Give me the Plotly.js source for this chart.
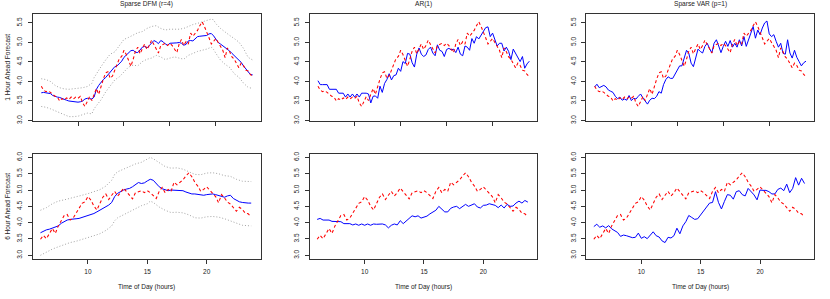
<!DOCTYPE html>
<html><head><meta charset="utf-8">
<script src="https://cdn.plot.ly/plotly-3.0.1.min.js"></script>
<style>html,body{margin:0;padding:0;background:#fff}#chart{width:830px;height:299px}</style>
</head><body><div id="chart"></div>
<script>
// ---------------- text ----------------
const panelTitles = ["Sparse DFM (r=4)", "AR(1)", "Sparse VAR (p=1)"];
const rowTitles = ["1 Hour Ahead Forecast", "6 Hour Ahead Forecast"];
const xTitle = "Time of Day (hours)";

// ---------------- top row: quarter-hour index 4..96 ----------------
const firstSlot = 4;
const actual = [3.88,3.78,3.74,3.76,3.72,3.66,3.62,3.60,3.50,3.56,3.52,3.58,3.54,3.60,3.55,3.60,3.57,3.62,3.45,3.36,
  3.49,3.61,3.51,3.65,3.82,3.67,3.90,4.06,4.22,4.25,4.08,4.14,4.29,4.47,4.59,4.64,4.80,4.69,4.51,4.39,
  4.57,4.78,4.88,4.71,4.84,4.96,4.82,4.92,5.06,4.94,4.82,4.73,4.92,4.96,4.98,4.92,4.98,4.92,4.82,4.74,
  4.96,5.08,4.92,5.02,4.96,5.24,5.16,5.24,5.31,5.43,5.53,5.41,5.24,5.12,4.96,5.02,5.10,5.00,4.90,4.80,
  4.61,4.86,4.76,4.63,4.57,4.45,4.35,4.47,4.41,4.29,4.27,4.18,4.12];
const dfm1 = [3.71,3.72,3.71,3.70,3.69,3.64,3.61,3.60,3.59,3.56,3.53,3.52,3.50,3.49,3.48,3.47,3.47,3.48,3.50,3.55,
  3.57,3.56,3.55,3.60,3.80,3.90,3.98,4.05,4.10,4.17,4.26,4.33,4.38,4.40,4.45,4.52,4.62,4.68,4.74,4.79,
  4.80,4.75,4.74,4.82,4.88,4.90,4.86,4.92,4.98,5.05,5.02,4.97,5.05,5.02,4.96,4.93,4.98,4.98,4.99,4.99,
  5.00,4.98,4.93,4.95,5.04,5.05,5.04,5.10,5.15,5.16,5.17,5.17,5.18,5.22,5.23,5.17,5.08,5.00,4.96,4.92,
  4.88,4.82,4.78,4.72,4.66,4.60,4.55,4.49,4.40,4.32,4.24,4.18,4.17];
const ciTopIdx = [4,6,8,10,12,14,16,18,20,22,24,26,27,28,30,32,34,36,38,40,42,44,46,48,50,52,54,56,58,60,62,64,66,68,70,72,74,76,78,79,80,82,84,86,88,90,92,94,96];
const dfm1Upper = [4.07,4.05,4.00,3.90,3.84,3.81,3.80,3.81,3.82,3.84,3.87,3.95,4.10,4.20,4.38,4.55,4.70,4.76,4.92,5.08,5.13,5.20,5.25,5.28,5.36,5.41,5.43,5.36,5.32,5.34,5.34,5.34,5.36,5.42,5.46,5.49,5.53,5.57,5.60,5.58,5.48,5.36,5.26,5.18,5.10,5.01,4.85,4.62,4.55];
const dfm1Lower = [3.36,3.34,3.30,3.25,3.18,3.13,3.10,3.10,3.11,3.15,3.19,3.17,3.30,3.38,3.53,3.73,3.89,4.04,4.12,4.26,4.37,4.42,4.40,4.51,4.57,4.60,4.67,4.63,4.56,4.60,4.63,4.60,4.57,4.67,4.73,4.77,4.80,4.83,4.88,4.82,4.72,4.55,4.44,4.36,4.20,4.11,3.96,3.85,3.82];
const ar1 = [4.02,3.92,3.92,3.92,3.92,3.80,3.80,3.80,3.80,3.70,3.70,3.70,3.60,3.68,3.60,3.68,3.60,3.68,3.60,3.70,
  3.70,3.70,3.68,3.45,3.62,3.63,3.57,3.88,3.72,3.95,4.05,4.20,4.04,4.15,4.17,4.34,4.26,4.51,4.46,4.72,
  4.70,4.48,4.37,4.70,4.86,4.70,4.64,4.68,4.82,4.88,4.73,4.66,4.94,4.80,4.77,4.64,4.82,4.85,4.81,4.83,
  4.74,4.88,4.70,4.66,4.91,4.88,4.80,5.10,4.98,5.15,5.09,5.20,5.30,5.38,5.40,5.15,5.24,5.05,4.91,4.98,
  4.98,4.78,4.88,4.77,4.56,4.83,4.73,4.64,4.51,4.64,4.34,4.45,4.52];
const var1 = [3.86,3.93,3.84,3.86,3.90,3.86,3.78,3.75,3.72,3.62,3.56,3.60,3.52,3.55,3.52,3.64,3.51,3.57,3.55,3.62,
  3.68,3.58,3.50,3.42,3.52,3.57,3.56,3.62,3.74,3.70,3.92,4.05,4.12,4.08,4.08,4.20,4.30,4.40,4.40,4.58,
  4.80,4.72,4.47,4.38,4.62,4.83,4.77,4.73,4.90,4.98,4.85,4.73,4.98,5.07,4.91,4.74,4.90,5.03,4.90,5.05,
  4.88,4.98,4.88,5.07,4.91,5.15,4.90,5.05,5.24,5.41,5.11,5.32,5.20,5.37,5.50,5.55,5.22,5.15,5.20,5.03,
  4.88,4.98,4.72,4.70,5.07,4.73,4.60,4.80,4.62,4.51,4.40,4.48,4.52];

// ---------------- bottom row: hours 6.00..23.75 (quarter-hour slots 24..95) ----------------
const bottomFirstSlot = 24;
const bottomLastSlot = 95;
const dfm6 = [3.69,3.74,3.78,3.80,3.84,3.88,3.90,3.98,4.04,4.08,4.10,4.12,4.12,4.13,4.16,4.19,
  4.22,4.24,4.28,4.33,4.38,4.43,4.49,4.54,4.62,4.80,4.90,4.96,5.00,5.03,5.05,5.10,
  5.18,5.23,5.20,5.22,5.28,5.33,5.30,5.20,5.10,5.04,5.00,4.98,5.00,4.99,5.00,4.99,
  4.98,4.94,4.90,4.88,4.88,4.86,4.85,4.84,4.86,4.88,4.88,4.86,4.84,4.80,4.78,4.82,
  4.84,4.74,4.68,4.64,4.62,4.60,4.60,4.60];
const ci6Hours = [6,6.5,7,7.5,8,8.5,9,9.5,10,10.5,11,11.5,12,12.25,12.5,13,13.5,14,14.5,15,15.25,15.5,16,16.5,17,17.5,18,18.5,19,19.5,20,20.5,21,21.5,22,22.5,23,23.75];
const dfm6Upper = [4.38,4.46,4.58,4.66,4.70,4.74,4.80,4.84,4.89,4.94,5.01,5.12,5.30,5.48,5.56,5.64,5.72,5.80,5.85,5.95,6.00,5.96,5.84,5.72,5.67,5.68,5.64,5.56,5.48,5.47,5.52,5.53,5.50,5.44,5.42,5.33,5.27,5.26];
const dfm6Lower = [3.00,3.10,3.19,3.26,3.33,3.39,3.43,3.48,3.54,3.60,3.66,3.76,3.90,4.06,4.15,4.24,4.33,4.42,4.52,4.58,4.66,4.62,4.48,4.38,4.31,4.32,4.30,4.24,4.15,4.14,4.18,4.19,4.17,4.12,4.05,3.97,3.92,3.90];
const ar6 = [4.10,4.13,4.08,4.08,4.08,4.04,4.03,4.03,4.03,3.97,3.97,3.97,3.93,3.96,3.92,3.96,
  3.92,3.96,3.92,3.96,3.95,3.96,3.96,3.93,3.84,3.92,3.96,3.93,4.06,3.97,4.05,4.12,
  4.21,4.18,4.21,4.14,4.18,4.20,4.27,4.33,4.38,4.50,4.42,4.33,4.33,4.44,4.48,4.50,
  4.43,4.50,4.56,4.50,4.55,4.58,4.48,4.45,4.53,4.54,4.58,4.55,4.53,4.46,4.54,4.45,
  4.56,4.50,4.51,4.60,4.66,4.60,4.68,4.63];
const var6 = [3.88,3.95,3.86,3.90,3.84,3.91,3.81,3.75,3.70,3.58,3.62,3.60,3.58,3.54,3.55,3.68,
  3.52,3.57,3.51,3.60,3.72,3.60,3.56,3.44,3.39,3.55,3.53,3.60,3.83,3.66,3.90,4.03,
  4.22,4.16,4.10,4.12,4.24,4.36,4.50,4.60,4.62,4.95,4.62,4.42,4.65,4.86,4.84,4.72,
  4.95,4.98,4.86,4.82,5.05,4.95,4.85,4.70,5.00,4.99,4.99,4.95,4.88,4.88,5.02,5.06,
  4.98,5.18,4.92,5.05,5.38,5.15,5.36,5.20];

// ---------------- axes ----------------
const topXTicks = [20, 40, 60, 80];
const bottomXTicks = [10, 15, 20];
const topYTicks = [3.0, 3.5, 4.0, 4.5, 5.0, 5.5];
const bottomYTicks = [3.0, 3.5, 4.0, 4.5, 5.0, 5.5, 6.0];

// ---------------- build ----------------
const W = 830, H = 299;
const colLeft = 33, boxW = 227.7, colStep = 276.67;
const rowBox = [[14, 120.5], [153.5, 259.2]];
const FONT = 'Liberation Sans, Arial, Helvetica, sans-serif';
const BLUE = '#0000ff', RED = '#ff0000', GREY = '#999999';

const topX = actual.map((_, i) => firstSlot + i);
const botActual = actual.slice(bottomFirstSlot - firstSlot, bottomLastSlot - firstSlot + 1);
const botX = botActual.map((_, i) => (bottomFirstSlot + i) / 4);

const redLine = {color: RED, width: 1.05, dash: '3px,2.5px'};
const blueLine = {color: BLUE, width: 1.0};
const ciLine = {color: GREY, width: 0.9, dash: '1px,2px'};

const traces = [];
function add(ax, x, y, line) {
  const n = ax === 1 ? '' : ax;
  traces.push({type: 'scatter', mode: 'lines', x: x, y: y, line: line,
    xaxis: 'x' + n, yaxis: 'y' + n, hoverinfo: 'skip', showlegend: false});
}
// top row
add(1, ciTopIdx, dfm1Upper, ciLine);
add(1, ciTopIdx, dfm1Lower, ciLine);
add(1, topX, dfm1, blueLine);
add(1, topX, actual, redLine);
add(2, topX, ar1, blueLine);
add(2, topX, actual, redLine);
add(3, topX, var1, blueLine);
add(3, topX, actual, redLine);
// bottom row
add(4, ci6Hours, dfm6Upper, ciLine);
add(4, ci6Hours, dfm6Lower, ciLine);
add(4, botX, dfm6, blueLine);
add(4, botX, botActual, redLine);
add(5, botX, ar6, blueLine);
add(5, botX, botActual, redLine);
add(6, botX, var6, blueLine);
add(6, botX, botActual, redLine);

const layout = {
  width: W, height: H, margin: {l: 0, r: 0, t: 0, b: 0},
  paper_bgcolor: '#fff', plot_bgcolor: '#fff', showlegend: false,
  font: {family: FONT, size: 6.5, color: '#222'},
  annotations: []
};
const tickFont = {family: FONT, size: 6.5, color: '#222'};
for (let p = 0; p < 6; p++) {
  const r = Math.floor(p / 3), c = p % 3;
  const n = p === 0 ? '' : (p + 1);
  const left = colLeft + c * colStep;
  const xd = [left / W, (left + boxW) / W];
  const yd = [1 - rowBox[r][1] / H, 1 - rowBox[r][0] / H];
  const common = {showline: true, mirror: true, linecolor: '#333', linewidth: 1,
    ticks: 'outside', ticklen: 4, tickwidth: 1, tickcolor: '#333',
    showgrid: false, zeroline: false, tickmode: 'array', tickfont: tickFont, fixedrange: true};
  layout['xaxis' + n] = Object.assign({}, common, {
    domain: xd, anchor: 'y' + n,
    range: r === 0 ? [0.4, 99.5] : [5.37, 24.55],
    tickvals: r === 0 ? topXTicks : bottomXTicks,
    ticktext: (r === 0 ? topXTicks : bottomXTicks).map(String),
    showticklabels: r === 1, ticklabelstandoff: 2
  });
  const yt = r === 0 ? topYTicks : bottomYTicks;
  layout['yaxis' + n] = Object.assign({}, common, {
    domain: yd, anchor: 'x' + n,
    range: r === 0 ? [3.0, 5.73] : [2.88, 6.12],
    tickvals: yt, ticktext: yt.map(v => v.toFixed(1)), tickangle: -90, ticklabelstandoff: 3
  });
  const cx = (left + boxW / 2) / W;
  if (r === 0) {
    layout.annotations.push({text: panelTitles[c], x: cx, y: 1 - 4.5 / H, xref: 'paper', yref: 'paper',
      xanchor: 'center', yanchor: 'middle', showarrow: false, font: {family: FONT, size: 6.6, color: '#222'}});
  } else {
    layout.annotations.push({text: xTitle, x: cx, y: 1 - 287 / H, xref: 'paper', yref: 'paper',
      xanchor: 'center', yanchor: 'middle', showarrow: false, font: {family: FONT, size: 6.5, color: '#222'}});
  }
  if (c === 0) {
    const cy = 1 - (rowBox[r][0] + rowBox[r][1]) / 2 / H;
    layout.annotations.push({text: rowTitles[r], x: 7.5 / W, y: cy, xref: 'paper', yref: 'paper',
      xanchor: 'center', yanchor: 'middle', textangle: -90, showarrow: false,
      font: {family: FONT, size: 6.5, color: '#222'}});
  }
}

Plotly.newPlot('chart', traces, layout, {displayModeBar: false, staticPlot: true});
</script>
</body></html>
